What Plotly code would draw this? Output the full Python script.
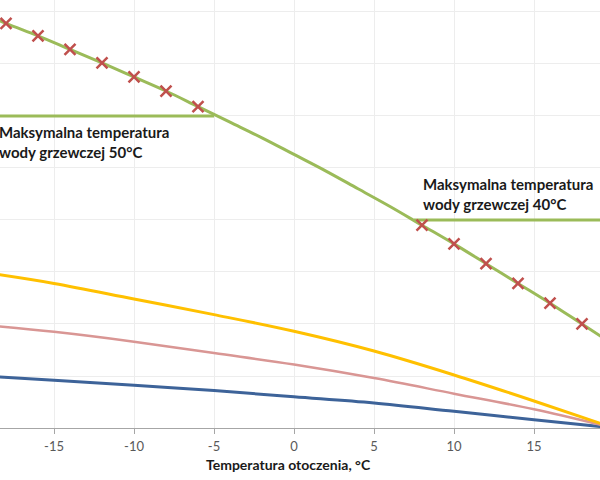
import plotly.graph_objects as go

# Heating curve (green) and markers
curve_x = [-20, -18, -16, -14, -12, -10, -8, -6, -4, -2, 0, 2, 4, 6, 8, 10, 12, 14, 16, 18, 20]
curve_y = [60.2, 58.9, 57.7, 56.4, 55.1, 53.75, 52.4, 50.9, 49.4, 47.9, 46.3, 44.7, 43.0, 41.3,
           39.5, 37.7, 35.8, 33.9, 32.0, 30.0, 28.0]

mark50_x = [-18, -16, -14, -12, -10, -8, -6]
mark50_y = [58.9, 57.7, 56.4, 55.1, 53.75, 52.4, 50.9]
mark40_x = [8, 10, 12, 14, 16, 18]
mark40_y = [39.5, 37.7, 35.8, 33.9, 32.0, 30.0]

lim50_x = [-20, -5]
lim50_y = [50, 50]
lim40_x = [7.5, 20]
lim40_y = [40, 40]

low_x = [-20, -15, -10, -5, 0, 5, 10, 15, 20]
yellow_y = [35.1, 33.9, 32.4, 30.9, 29.3, 27.4, 25.1, 22.6, 20.0]
pink_y = [30.0, 29.25, 28.3, 27.2, 26.1, 24.8, 23.3, 21.8, 20.0]
blue_y = [25.05, 24.6, 24.1, 23.6, 23.0, 22.4, 21.6, 20.8, 20.0]

x_ticks = [-15, -10, -5, 0, 5, 10, 15]
x_ticktext = ["-15", "-10", "-5", "0", "5", "10", "15"]
y_ticks = [20, 25, 30, 35, 40, 45, 50, 55, 60]

label50 = "Maksymalna temperatura<br>wody grzewczej 50°C"
label40 = "Maksymalna temperatura<br>wody grzewczej 40°C"
x_title = "Temperatura otoczenia, °C"

GREEN = "#9BBB59"
RED = "#C0504D"
FONT = "Lato, 'Open Sans', sans-serif"

fig = go.Figure()
fig.add_trace(go.Scatter(x=low_x, y=blue_y, mode="lines", line=dict(color="#3D6399", width=3, shape="spline")))
fig.add_trace(go.Scatter(x=low_x, y=pink_y, mode="lines", line=dict(color="#D99694", width=2.5, shape="spline")))
fig.add_trace(go.Scatter(x=low_x, y=yellow_y, mode="lines", line=dict(color="#FFC000", width=3, shape="spline")))
fig.add_trace(go.Scatter(x=lim50_x, y=lim50_y, mode="lines", line=dict(color=GREEN, width=3)))
fig.add_trace(go.Scatter(x=lim40_x, y=lim40_y, mode="lines", line=dict(color=GREEN, width=3)))
fig.add_trace(go.Scatter(x=curve_x, y=curve_y, mode="lines", line=dict(color=GREEN, width=3, shape="spline")))
for mx, my in [(mark50_x, mark50_y), (mark40_x, mark40_y)]:
    fig.add_trace(go.Scatter(x=mx, y=my, mode="markers",
                             marker=dict(symbol="x-thin", size=11, line=dict(color=RED, width=2.5), color=RED)))

ann_font = dict(family=FONT, size=15, color="#1a1a1a")
fig.add_annotation(x=-18.375, y=47.5, text="<b>" + label50 + "</b>", showarrow=False, xshift=-2,
                   xanchor="left", yanchor="middle", align="left", font=ann_font, borderpad=0)
fig.add_annotation(x=8.0, y=42.5, text="<b>" + label40 + "</b>", showarrow=False,
                   xanchor="left", yanchor="middle", align="left", font=ann_font, borderpad=0)
fig.add_annotation(x=0.5, y=0, xref="paper", yref="paper", text="<b>" + x_title + "</b>",
                   showarrow=False, xanchor="center", yanchor="middle", yshift=-36, xshift=-12,
                   font=dict(family=FONT, size=14, color="#1a1a1a"), borderpad=0)

fig.update_layout(
    width=600, height=480,
    margin=dict(l=0, r=0, t=0, b=52),
    paper_bgcolor="white", plot_bgcolor="white",
    showlegend=False,
    xaxis=dict(range=[-18.375, 19.125], tickvals=x_ticks, ticktext=x_ticktext, showgrid=True,
               gridcolor="#EDEDED", gridwidth=1, zeroline=False, showline=True, linecolor="#A6A6A6",
               linewidth=1, ticks="outside", ticklen=5, tickcolor="#A6A6A6", automargin=False,
               ticklabelstandoff=1,
               tickfont=dict(family=FONT, size=13, color="#595959")),
    yaxis=dict(range=[20, 61.15], tickvals=y_ticks, showgrid=True, gridcolor="#EDEDED",
               gridwidth=1, zeroline=False, showline=False, showticklabels=False, automargin=False),
)

fig.write_html("out.html")
